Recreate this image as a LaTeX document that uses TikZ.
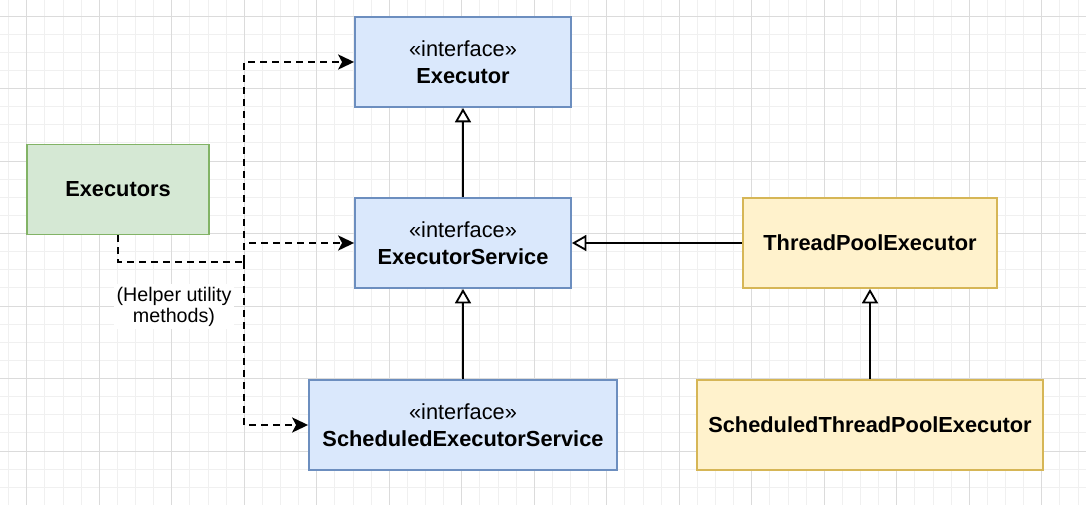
\documentclass[tikz,border=0pt]{standalone}
\usepackage{fontspec}
\setmainfont{Liberation Sans}
\usetikzlibrary{arrows.meta}
\definecolor{ifill}{HTML}{DAE8FC}
\definecolor{idraw}{HTML}{6C8EBF}
\definecolor{gfill}{HTML}{D5E8D4}
\definecolor{gdraw}{HTML}{82B366}
\definecolor{yfill}{HTML}{FFF2CC}
\definecolor{ydraw}{HTML}{D6B656}
\begin{document}
\begin{tikzpicture}[x=0.025cm,y=-0.025cm,
	every node/.style={font=\fontsize{15.5}{19.5}\selectfont,align=center,line width=1.3pt},
	iface/.style={draw=idraw,fill=ifill,minimum height=2.25cm},
	util/.style={draw=gdraw,fill=gfill,minimum height=2.25cm},
	impl/.style={draw=ydraw,fill=yfill,minimum height=2.25cm},
	minor/.style={draw=black!6,line width=0.6pt},
	major/.style={draw=black!14,line width=0.6pt},
	inh/.style={line width=1.3pt,-{Triangle[fill=white,length=0.36cm,width=0.4cm]}},
	dep/.style={line width=1.3pt,dash pattern=on 0.17cm off 0.13cm,-{Stealth[length=0.4cm,width=0.38cm,inset=0.1cm]}}]
\useasboundingbox (0,0) rectangle (1086,505);
% grid
\fill[white] (0,0) rectangle (1086,505);
\foreach \i in {0,...,60} {
	\draw[minor] ({8.6+18.125*\i},0) -- ++(0,505);
	\draw[minor] (0,{-2.1+18.125*\i}) -- ++(1086,0);
}
\foreach \i in {0,...,15} {
	\draw[major] ({26.7+72.5*\i},0) -- ++(0,505);
	\draw[major] (0,{16+72.5*\i}) -- ++(1086,0);
}
% classes
\node[iface,minimum width=5.4cm] (executor) at (463,62) {«interface»\\\textbf{Executor}};
\node[iface,minimum width=5.4cm] (service) at (463,243) {«interface»\\\textbf{ExecutorService}};
\node[iface,minimum width=7.7cm] (sched) at (463,425) {«interface»\\\textbf{ScheduledExecutorService}};
\node[util,minimum width=4.55cm] (executors) at (118,189.5) {\textbf{Executors}};
\node[impl,minimum width=6.35cm] (tpe) at (870,243) {\textbf{ThreadPoolExecutor}};
\node[impl,minimum width=8.65cm] (stpe) at (870,425) {\textbf{ScheduledThreadPoolExecutor}};
% inheritance
\draw[inh] (service) -- (executor);
\draw[inh] (sched) -- (service);
\draw[inh] (tpe) -- (service);
\draw[inh] (stpe) -- (tpe);
% helper links
\coordinate (hub) at (244,262);
\draw[line width=1.3pt,dash pattern=on 0.17cm off 0.13cm] (executors.south) |- (hub);
\draw[dep] (hub) |- (executor.west);
\draw[dep] (hub) |- (service.west);
\draw[dep] (hub) |- (sched.west);
\node[fill=white,inner sep=2pt,font=\fontsize{14}{15}\selectfont] (helper) at (174,306.5) {(Helper utility\\methods)};
\end{tikzpicture}
\end{document}
